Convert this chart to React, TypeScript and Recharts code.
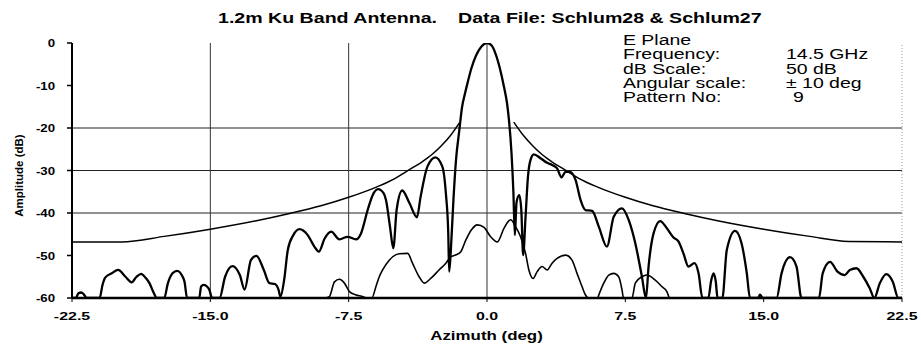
import { LineChart, Line, XAxis, YAxis, ReferenceLine } from 'recharts';

// azimuth (deg) / amplitude (dB)
const mainAz = [
  -22.5, -22.3, -22.15, -22.0, -21.85, -21.7, -21.0, -20.85, -20.7, -20.35, -20.0, -19.6, -19.27, -19.0,
  -18.75, -18.5, -18.3, -18.1, -17.9, -17.5, -17.3, -17.05, -16.8, -16.5, -16.4, -16.26, -15.6, -15.5,
  -15.36, -15.07, -14.9, -14.5, -14.2, -13.8, -13.4, -13.14, -12.8, -12.5, -12.1, -11.8, -11.5, -11.3,
  -11.2, -11.0, -10.8, -10.5, -10.17, -9.72, -9.36, -9.12, -8.8, -8.45, -8.0, -7.56, -7.1, -6.83, -6.47,
  -6.2, -5.9, -5.6, -5.48, -5.26, -5.08, -4.9, -4.6, -4.2, -3.8, -3.6, -3.23, -2.8, -2.42, -2.23, -2.1,
  -2.05, -1.95, -1.82, -1.68, -1.5, -1.35, -1.2, -1.06, -0.85, -0.6, -0.3, 0, 0.25, 0.47, 0.7, 0.92, 1.08,
  1.19, 1.33, 1.43, 1.51, 1.6, 1.75,
  1.86, 1.96, 2.09, 2.22, 2.36, 2.54, 2.9, 3.26, 3.53, 3.8, 4.04, 4.26, 4.49, 4.8, 5.07, 5.34, 5.7, 6.06,
  6.5, 6.87, 7.32, 7.68, 8.04, 8.4, 8.62, 8.76, 9.03, 9.39, 9.75, 10.1, 10.38, 10.65, 10.92, 11.25, 11.47,
  11.68, 12.0, 12.15, 12.28, 12.4, 12.5, 12.76, 13.0, 13.45, 13.8, 14.08, 14.26, 14.7, 14.8, 14.95, 15.7,
  15.97, 16.43, 16.78, 17.05, 18.0, 18.2, 18.6, 19.0, 19.4, 19.67, 20.03, 20.4, 20.75, 21.0, 21.3, 21.65,
  22.0, 22.3, 22.5,
];
const mainDb = [
  -60, -60, -58.9, -58.7, -59.2, -60, -60, -57, -55.2, -54.2, -53.4, -55.0, -56.3, -55.0,
  -54.3, -55.3, -56.5, -58.5, -60, -60, -56.5, -54.2, -53.6, -55.0, -56.2, -60, -60, -57.3,
  -56.9, -57.9, -60, -60, -55.0, -52.5, -54.6, -58.0, -51.1, -50.1, -53.4, -56.5, -56.7, -58.1,
  -59.7, -55.8, -48.7, -45.2, -43.8, -45.2, -47.9, -49.1, -46.0, -44.4, -46.2, -45.6, -46.2, -44.8, -39.3,
  -35.8, -34.4, -35.4, -36.9, -43.2, -48.3, -39.3, -34.7, -37.7, -41.0, -36.2, -29.1, -26.9, -29.1, -35.4, -44.8,
  -53.8, -47.9, -36.9, -27.5, -20.5, -15.0, -12.0, -9.5, -6.0, -3.0, -0.8, 0, -0.6, -2.6, -6.0, -10.3, -14.0,
  -18.1, -26, -35, -45.2, -37.5, -35.8,
  -39.3, -49.9, -40.9, -31.5, -27.5, -26.2, -27.1, -28.2, -28.7, -29.5, -31.6, -30.3, -30.3, -32.2, -36.9, -39.3, -39.5, -43.2,
  -47.9, -40.9, -38.9, -41.6, -47.1, -55.0, -60, -52.6, -44.8, -41.9, -43.6, -45.7, -46.7, -49.5, -52.6, -51.8, -54.2,
  -60, -60, -56, -54.2, -56, -60, -60, -48.7, -44.2, -47.1, -54, -60, -60, -59.2, -60, -60,
  -54.2, -50.4, -52.6, -60, -60, -54.2, -51.5, -53.8, -54.6, -53.4, -53.0, -55, -57.7, -60, -56.5, -54.4,
  -56.2, -60, -60,
];

const xpolAz = [
  -8.8, -8.55, -8.27, -8.0, -7.73, -7.46, -7.1, -6.8, -6.5, -6.25, -6.0, -5.84, -5.66, -5.3, -4.76, -4.3,
  -4.04, -3.68, -3.4, -3.05, -2.6, -2.23, -1.96, -1.7, -1.42, -1.15, -0.85, -0.52, -0.16, 0.2, 0.56, 0.92,
  1.28, 1.55, 1.82, 2.09, 2.27, 2.5, 2.72, 2.99, 3.26, 3.53, 3.8, 4.26, 4.61, 4.88, 5.15, 5.34, 5.5, 6.0,
  6.06, 6.33, 6.6, 6.87, 7.14, 7.32, 7.4, 7.86, 8.04, 8.4, 8.67, 9.12, 9.48, 9.75, 9.88,
];
const xpolDb = [
  -60, -59.7, -56.2, -55.6, -56.5, -58.5, -59.3, -59.6, -60, -60, -57, -55, -53.4, -51.1, -49.6, -49.5,
  -51.8, -55.0, -56.5, -55.4, -53.4, -51.8, -50.3, -49.9, -49.1, -46.4, -44, -42.8, -43.4, -45.6, -46.8, -43.6,
  -41.6, -43.2, -45.6, -49.5, -53.4, -55.4, -53.8, -52.6, -53.4, -51.8, -50.7, -49.9, -51.1, -54.2, -57.3, -59.3, -60, -60,
  -59.3, -56.5, -54.6, -54.2, -55.0, -58.1, -60, -60, -56.5, -55.0, -54.6, -55.8, -57.3, -58.5, -60,
];

// envelope mask, gap across the main lobe
const envAz = [
  -22.5, -19.8, -17.5, -15, -12.5, -10.7, -9, -7.5, -6, -5, -4.4, -3.5, -3, -2.5, -2, -1.5, 0,
  1.45, 2, 2.5, 3, 3.5, 4.4, 5, 6, 7.5, 9, 10.7, 12.5, 15, 17.5, 19.6, 22.5,
];
const envDb = [
  -46.8, -46.8, -45.5, -43.8, -41.8, -40.1, -38.3, -36.3, -33.9, -31.9, -30.3, -27.9, -26.3, -24.3, -21.9, -18.8, null,
  -18.6, -21.9, -24.3, -26.3, -27.9, -30.3, -31.9, -33.9, -36.3, -38.3, -40.1, -41.8, -43.8, -45.5, -46.7, -46.8,
];

const xTicks = [-22.5, -15, -7.5, 0, 7.5, 15, 22.5];
const yTicks = [-60, -50, -40, -30, -20, -10, 0];
const gridY = [-20, -30, -40];
const gridX = [-15, -7.5, 0];

const infoLabels = ['E Plane', 'Frequency:', 'dB Scale:', 'Angular scale:', 'Pattern No:'];
const infoValues = ['', '14.5 GHz', '50 dB', '\u00b1 10 deg', '9'];

const toPts = (xs: number[], ys: (number | null)[]) => xs.map((x, i) => ({ x, y: ys[i] }));

const FONT = '"Liberation Sans", Arial, sans-serif';

function WideText({ x, y, sx = 1.4, size = 14, weight = 'normal', anchor = 'start', children }: any) {
  return (
    <text
      transform={`translate(${x},${y}) scale(${sx},1)`}
      fontSize={size}
      fontWeight={weight}
      textAnchor={anchor}
      fontFamily={FONT}
      fill="#000"
    >
      {children}
    </text>
  );
}

const XTick = (p: any) => (
  <WideText x={p.x} y={319.5} size={11} weight="bold" sx={1.45} anchor="middle">
    {Number(p.payload.value).toFixed(1)}
  </WideText>
);

const YTick = (p: any) => (
  <WideText x={55} y={p.y + 4} size={11.5} weight="bold" sx={1.15} anchor="end">
    {String(p.payload.value)}
  </WideText>
);

export default function App() {
  const main = toPts(mainAz, mainDb);
  const xpol = toPts(xpolAz, xpolDb);
  const env = toPts(envAz, envDb);

  return (
    <div style={{ position: 'absolute', left: 0, top: 0, width: 921, height: 346, background: '#fff' }}>
      <LineChart width={921} height={346} margin={{ top: 43, right: 19, left: 0, bottom: 0 }}>
        <XAxis
          type="number"
          dataKey="x"
          domain={[-22.5, 22.5]}
          ticks={xTicks}
          height={48}
          axisLine={{ stroke: '#000', strokeWidth: 2.5 }}
          tickLine={{ stroke: '#000' }}
          tickSize={4}
          tick={XTick}
          allowDataOverflow
        />
        <YAxis
          type="number"
          domain={[-60, 0]}
          ticks={yTicks}
          width={72}
          axisLine={{ stroke: '#000', strokeWidth: 2 }}
          tickLine={{ stroke: '#000', strokeWidth: 1.5 }}
          tickSize={5}
          tick={YTick}
          allowDataOverflow
        />
        {gridY.map((v) => (
          <ReferenceLine key={'gy' + v} y={v} stroke="#222" strokeWidth={1} />
        ))}
        {gridX.map((v) => (
          <ReferenceLine key={'gx' + v} x={v} stroke="#333" strokeWidth={1} />
        ))}
        <ReferenceLine x={22.5} stroke="#999" strokeDasharray="1 2" />
        <Line data={env} dataKey="y" type="monotone" stroke="#000" strokeWidth={1.5} dot={false} activeDot={false} isAnimationActive={false} />
        <Line data={xpol} dataKey="y" type="monotone" stroke="#000" strokeWidth={1.6} dot={false} activeDot={false} isAnimationActive={false} />
        <Line data={main} dataKey="y" type="monotone" stroke="#000" strokeWidth={2.3} dot={false} activeDot={false} isAnimationActive={false} />
      </LineChart>

      <svg width={921} height={346} style={{ position: 'absolute', left: 0, top: 0, pointerEvents: 'none' }}>
        <WideText x={218} y={22.7} weight="bold">1.2m Ku Band Antenna.</WideText>
        <WideText x={458} y={22.7} weight="bold">Data File: Schlum28 &amp; Schlum27</WideText>
        {infoLabels.map((t, i) => (
          <WideText key={t} x={623} y={45 + i * 14.3} sx={1.39}>{t}</WideText>
        ))}
        {infoValues.map((t, i) => (
          <WideText key={'v' + i} x={i === 4 ? 793 : 786} y={45 + i * 14.3} sx={1.39}>{t}</WideText>
        ))}
        <WideText x={486.5} y={340} size={13} weight="bold" sx={1.3} anchor="middle">Azimuth (deg)</WideText>
        <text
          transform="translate(23,175.5) rotate(-90)"
          fontSize={11.5}
          fontWeight="bold"
          textAnchor="middle"
          fontFamily={FONT}
        >
          Amplitude (dB)
        </text>
      </svg>
    </div>
  );
}
